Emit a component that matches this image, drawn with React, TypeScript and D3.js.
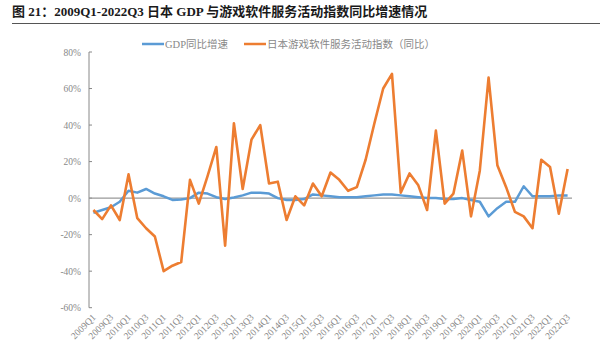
import * as d3 from 'd3';

const quarters: string[] = [];
for (let y = 2009; y <= 2022; y++) {
  for (let q = 1; q <= 4; q++) {
    if (y === 2022 && q > 3) break;
    quarters.push(`${y}Q${q}`);
  }
}

// 日本GDP同比增速 (%)
const gdpYoY = [
  -8, -6.5, -5, -2, 4, 3, 5, 2.5, 1, -1, -0.7, 0,
  3, 2.5, 0.5, -0.5, 0.3, 1.5, 3, 3, 2.5, 0, -1, -1,
  -0.5, 2, 1.5, 1, 0.5, 0.5, 0.5, 1, 1.5, 2, 2, 1.5,
  1, 0.5, 0, 0, -0.5, -0.5, 0, -1, -2, -10, -5.5, -2,
  -2, 6.5, 1, 1, 1, 1.5, 1.5,
];

// 日本游戏软件服务活动指数同比 (%)
const gameYoY = [
  -6.5, -11.5, -4, -12, 13, -11, -16.5, -21, -40, -37, -35, 10,
  -3, 12, 28, -26, 41, 5, 32, 40, 8, 9, -12, 1,
  -4, 8, 1, 14, 10, 4, 6, 21, 41, 60, 68, 3,
  13.5, 7, -6.5, 37, -3, 2.5, 26, -10, 15, 66, 18, 6,
  -7.5, -10, -16.5, 21, 17, -8.5, 16,
];

const yTicks = [80, 60, 40, 20, 0, -20, -40, -60];

const seriesNames = ['GDP同比增速', '日本游戏软件服务活动指数（同比）'];
const seriesColors = ['#5B9BD5', '#ED7D31'];

export default function App() {
  const width = 600;
  const height = 354;

  const x = d3.scaleBand<string>().domain(quarters).range([89, 572]).padding(0);
  const y = d3.scaleLinear().domain([-60, 80]).range([307.7, 52]);
  const cx = (q: string) => (x(q) ?? 0) + x.bandwidth() / 2;

  const line = d3
    .line<number>()
    .x((_, i) => cx(quarters[i]))
    .y((d) => y(d))
    .curve(d3.curveLinear);

  const labelFont = "'Liberation Serif', 'DejaVu Serif', serif";
  const cjkFont = "'Liberation Serif', 'Noto Sans CJK SC', serif";

  return (
    <svg
      width={width}
      height={height}
      viewBox={`0 0 ${width} ${height}`}
      style={{ position: 'absolute', left: 0, top: 0, background: '#fff' }}
    >
      <rect width={width} height={height} fill="#fff" />
      {/* title */}
      <text x={12} y={16} fontSize="13" fontWeight="bold" fill="#1a1a1a" fontFamily={cjkFont}>
        图 21：2009Q1-2022Q3 日本 GDP 与游戏软件服务活动指数同比增速情况
      </text>
      <line x1={12} x2={600} y1={23.5} y2={23.5} stroke="#555" strokeWidth={1} />

      {/* legend */}
      <g fontFamily={cjkFont} fontSize="10.5" fill="#888">
        <line x1={142} x2={164} y1={44} y2={44} stroke={seriesColors[0]} strokeWidth={2.5} />
        <text x={165} y={48}>{seriesNames[0]}</text>
        <line x1={244} x2={266} y1={44} y2={44} stroke={seriesColors[1]} strokeWidth={2.5} />
        <text x={267} y={48}>{seriesNames[1]}</text>
      </g>

      {/* y axis */}
      <line x1={89} x2={89} y1={y(80)} y2={y(-60)} stroke="#888" strokeWidth={1} />
      {yTicks.map((t) => (
        <g key={t}>
          <line x1={89} x2={92} y1={y(t)} y2={y(t)} stroke="#888" />
          <text
            x={81}
            y={y(t) + 3.5}
            textAnchor="end"
            fontSize="9.5"
            fill="#888"
            fontFamily={labelFont}
          >
            {`${t}%`}
          </text>
        </g>
      ))}

      {/* zero line */}
      <line x1={89} x2={572} y1={y(0)} y2={y(0)} stroke="#999" strokeWidth={1.2} />

      {/* x labels */}
      {quarters
        .filter((_, i) => i % 2 === 0)
        .map((q) => (
          <text
            key={q}
            transform={`translate(${cx(q) + 3},${318}) rotate(-45)`}
            textAnchor="end"
            fontSize="9.5"
            fill="#888"
            fontFamily={labelFont}
          >
            {q}
          </text>
        ))}

      {/* series */}
      <path d={line(gdpYoY) ?? ''} fill="none" stroke={seriesColors[0]} strokeWidth={2.5} strokeLinejoin="round" />
      <path d={line(gameYoY) ?? ''} fill="none" stroke={seriesColors[1]} strokeWidth={2.6} strokeLinejoin="round" />
    </svg>
  );
}
